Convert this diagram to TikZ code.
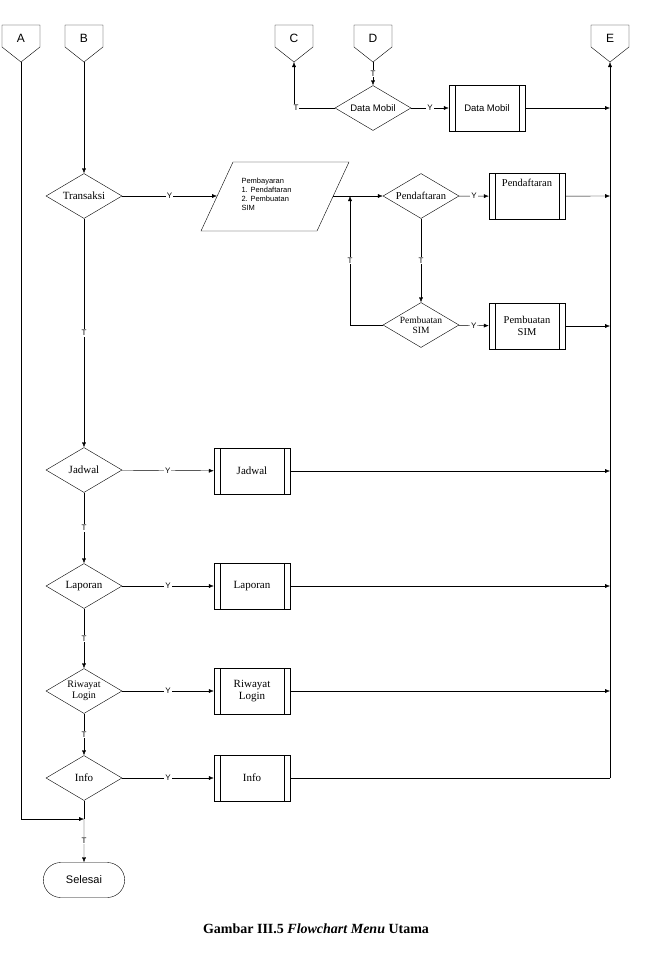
\documentclass[tikz,border=0pt]{standalone}
\usepackage{fontspec}
\setsansfont{Liberation Sans}
\setmainfont{Liberation Serif}
\usetikzlibrary{shapes.geometric,shapes.misc,arrows.meta}
\tikzset{
    line/.style={draw, -{Latex[length=5pt,width=4pt]}},
    plain/.style={draw},
    decision/.style={draw, diamond, aspect=1.69, minimum width=76pt, minimum height=45pt, inner sep=0pt, font=\fontsize{11}{11}\selectfont, align=center},
    process/.style={draw, rectangle, minimum width=76pt, minimum height=46pt, inner sep=1pt, font=\fontsize{11}{12}\selectfont, align=center,
        path picture={
            \draw ([xshift=6pt]path picture bounding box.north west) -- ([xshift=6pt]path picture bounding box.south west);
            \draw ([xshift=-6pt]path picture bounding box.north east) -- ([xshift=-6pt]path picture bounding box.south east);
        }},
    lbl/.style={fill=white, inner sep=1pt, font=\sffamily\fontsize{8}{8}\selectfont},
    terminal/.style={draw, rounded rectangle, minimum width=88pt, minimum height=35pt, font=\sffamily\fontsize{11}{11}\selectfont},
}
\newcommand{\offpage}[3]{%
    \draw (#2-19,25) -- (#2+19,25) -- (#2+19,47) -- (#2,62) -- (#2-19,47) -- cycle;
    \node[font=\sffamily\fontsize{12}{12}\selectfont] at (#2,38) {#3};
    \coordinate (#1) at (#2,62);
}
\begin{document}
\begin{tikzpicture}[x=1pt, y=-1pt]
    \useasboundingbox (0,0) rectangle (648,961);
    \offpage{A}{21}{A}
    \offpage{B}{84}{B}
    \offpage{C}{294}{C}
    \offpage{D}{373}{D}
    \offpage{E}{610}{E}

    \node[decision, font=\sffamily\fontsize{9.5}{10}\selectfont] (dmobil) at (373,108) {Data Mobil};
    \node[process, font=\sffamily\fontsize{9.5}{10}\selectfont] (pmobil) at (487,108) {Data Mobil};
    \node[decision] (transaksi) at (84,196) {Transaksi};
    \draw (201,231) -- (233,162) -- (349,162) -- (317,231) -- cycle;
    \node[font=\sffamily\fontsize{7.5}{9}\selectfont, align=left, anchor=west] (bayar) at (238,194) {Pembayaran\\1. Pendaftaran\\2. Pembuatan\\SIM};
    \coordinate (bayarin) at (217,196);
    \coordinate (bayarout) at (333,196);
    \coordinate (join) at (350,196);
    \node[decision, font=\fontsize{10.5}{11}\selectfont] (ddaftar) at (421,196) {Pendaftaran};
    \node[process, anchor=north, font=\fontsize{10.5}{12}\selectfont] (pdaftar) at (527,173) {Pendaftaran\\[14pt]};
    \node[decision, font=\fontsize{9.5}{10}\selectfont] (dsim) at (421,325) {Pembuatan\\SIM};
    \node[process, font=\fontsize{10.5}{12}\selectfont] (psim) at (527,326) {Pembuatan\\SIM};
    \node[decision] (djadwal) at (84,470) {Jadwal};
    \node[process] (pjadwal) at (252,471) {Jadwal};
    \node[decision] (dlaporan) at (84,586) {Laporan};
    \node[process] (plaporan) at (252,586) {Laporan};
    \node[decision, font=\fontsize{10}{11}\selectfont] (driwayat) at (84,691) {Riwayat\\Login};
    \node[process] (priwayat) at (252,691) {Riwayat\\Login};
    \node[decision] (dinfo) at (84,778) {Info};
    \node[process] (pinfo) at (252,778) {Info};
    \coordinate (akhir) at (84,819);
    \node[terminal] (selesai) at (84,880) {Selesai};

    \draw[line] (D) -- node[lbl] {T} (dmobil);
    \draw[line] (dmobil.west) -- node[lbl, pos=0.95] {T} (294,108) -- (C);
    \draw[line] (dmobil) -- node[lbl] {Y} (pmobil);
    \draw[line] (pmobil) -- (610,108);
    \draw[line] (610,778) -- (E);

    \draw[line] (B) -- (transaksi);
    \draw[line] (transaksi) -- node[lbl] {Y} (bayarin);
    \draw[line] (bayarout) -- (ddaftar);
    \draw[line] (ddaftar) -- node[lbl] {Y} (pdaftar);
    \draw[line] (pdaftar) -- (610,196);
    \draw[line] (ddaftar) -- node[lbl] {T} (dsim);
    \draw[line] (dsim) -- node[lbl] {Y} (psim);
    \draw[line] (psim) -- (610,326);
    \draw[line] (dsim.west) -- (350,325) -- node[lbl] {T} (join);

    \draw[line] (transaksi) -- node[lbl] {T} (djadwal);
    \draw[line] (djadwal) -- node[lbl] {Y} (pjadwal);
    \draw[line] (pjadwal) -- (610,471);
    \draw[line] (djadwal) -- node[lbl] {T} (dlaporan);
    \draw[line] (dlaporan) -- node[lbl] {Y} (plaporan);
    \draw[line] (plaporan) -- (610,586);
    \draw[line] (dlaporan) -- node[lbl] {T} (driwayat);
    \draw[line] (driwayat) -- node[lbl] {Y} (priwayat);
    \draw[line] (priwayat) -- (610,691);
    \draw[line] (driwayat) -- node[lbl] {T} (dinfo);
    \draw[line] (dinfo) -- node[lbl] {Y} (pinfo);
    \draw[plain] (pinfo) -- (610,778);
    \draw[plain] (dinfo) -- (akhir);
    \draw[line] (A) -- (21,819) -- (akhir);
    \draw[line] (akhir) -- node[lbl] {T} (selesai);

    \node[font=\bfseries\fontsize{14}{14}\selectfont] (judul) at (316,929) {Gambar III.5 \textit{Flowchart Menu} Utama};
\end{tikzpicture}
\end{document}
